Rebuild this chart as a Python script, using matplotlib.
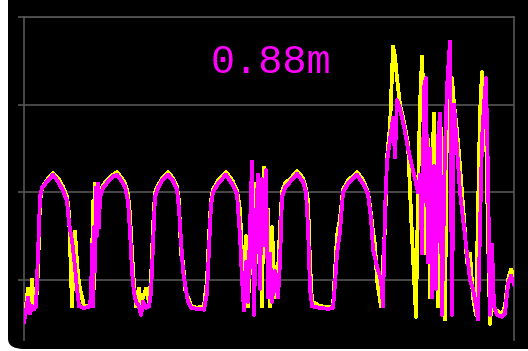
import matplotlib
matplotlib.use("Agg")
import matplotlib.pyplot as plt
from matplotlib.patches import FancyBboxPatch

# time index (samples) and two traces
t = [0, 2, 4, 6, 8, 10, 12, 14, 16, 18, 23, 29, 34, 39, 43, 45, 48, 51, 53, 55,
     60, 65, 67, 68, 69, 70, 71, 72, 73, 74, 75, 76, 79, 84, 89, 93, 97, 101, 104, 106,
     108, 110, 112, 115, 117, 119, 122, 125, 127, 129, 131, 134, 139, 144, 149, 153, 155, 157, 159, 161,
     164, 167, 173, 180, 183, 185, 187, 189, 194, 202, 208, 213, 216, 218, 220, 222, 224, 226, 228, 230,
     232, 234, 236, 238, 240, 242, 244, 246, 248, 251, 254, 256, 258, 261, 267, 273, 279, 282, 284, 286,
     288, 296, 304, 309, 311, 313, 316, 319, 324, 333, 339, 344, 347, 349, 351, 353, 357, 359, 361, 363,
     366, 369, 371, 373, 376, 380, 384, 388, 392, 394, 396, 398, 400, 402, 404, 406, 408, 410, 412, 414,
     416, 418, 421, 423, 426, 428, 430, 433, 436, 440, 443, 446, 449, 452, 454, 456, 458, 460, 462, 464,
     466, 468, 470, 473, 478, 481, 484, 487, 490]

magenta_vals = [-0.48, -0.36, -0.20, -0.38, -0.30, -0.34, -0.30, 0.30, 0.95, 1.05, 1.12, 1.20, 1.12, 1.02, 0.90, 0.65, 0.45, 0.15, -0.10, -0.30,
                -0.32, -0.31, -0.20, 0.40, -0.30, 0.60, 0.10, 1.05, 0.50, 1.10, 0.60, 0.95, 1.05, 1.12, 1.18, 1.20, 1.14, 1.06, 0.90, 0.55,
                0.10, -0.15, -0.25, -0.30, -0.40, -0.25, -0.32, -0.30, -0.15, 0.40, 0.95, 1.05, 1.15, 1.20, 1.13, 1.03, 0.80, 0.45, 0.10, -0.05,
                -0.25, -0.32, -0.33, -0.34, -0.15, 0.35, 0.85, 1.00, 1.10, 1.20, 1.10, 0.98, 0.50, 0.00, -0.35, 0.20, -0.25, 0.60, 1.35, -0.40,
                0.70, 1.20, -0.10, 1.15, 0.40, 1.25, -0.20, 0.30, -0.25, 0.10, -0.20, 0.20, 0.95, 1.05, 1.13, 1.21, 1.12, 1.00, 0.60, -0.10,
                -0.30, -0.32, -0.33, -0.32, -0.05, 0.30, 0.55, 1.00, 1.10, 1.20, 1.10, 0.98, 0.70, 0.35, 0.25, 0.15, 0.00, -0.30, 0.80, 1.35,
                1.60, 1.85, 1.40, 2.05, 1.95, 1.75, 1.50, 1.30, 1.10, 1.00, 1.20, 0.30, 2.20, 2.30, 0.20, 1.50, -0.20, 1.30, -0.10, 1.60,
                1.90, -0.40, 1.50, 2.20, 2.72, -0.40, 2.00, 1.50, 1.00, 0.60, 0.30, 0.00, -0.10, -0.30, -0.45, 0.60, 1.60, 2.00, 2.30, 1.20,
                -0.40, 0.40, -0.30, -0.40, -0.42, -0.38, -0.05, 0.05, -0.05]

yellow_vals = [-0.40, -0.30, -0.10, -0.35, 0.00, -0.30, -0.28, 0.10, 0.90, 1.05, 1.14, 1.22, 1.16, 1.06, 0.95, 0.75, -0.30, 0.55, 0.20, -0.05,
               -0.30, -0.30, -0.25, 0.20, 0.90, -0.10, 1.10, 0.60, 1.08, 0.80, 1.00, 1.00, 1.08, 1.15, 1.20, 1.23, 1.17, 1.10, 0.98, 0.75,
               0.30, -0.05, -0.30, -0.10, -0.28, -0.20, -0.10, -0.25, 0.00, 0.60, 1.00, 1.08, 1.17, 1.23, 1.16, 1.06, 0.90, 0.30, 0.20, -0.10,
               -0.20, -0.30, -0.32, -0.30, 0.00, 0.50, 0.90, 1.03, 1.13, 1.23, 1.14, 1.02, 0.80, 0.30, -0.20, 0.50, -0.30, 0.20, 0.90, -0.30,
               1.10, 0.20, 0.90, -0.30, 1.28, 0.50, 0.80, -0.30, 0.60, -0.20, 0.10, 0.60, 1.00, 1.10, 1.16, 1.24, 1.16, 1.04, 0.90, 0.20,
               -0.25, -0.30, -0.31, -0.30, 0.10, 0.50, 0.70, 1.03, 1.13, 1.23, 1.14, 1.00, 0.75, 0.55, 0.40, 0.00, -0.30, 0.20, 0.60, 1.40,
               1.75, 2.66, 2.55, 2.30, 2.00, 1.80, 1.55, 0.50, -0.42, 1.00, 2.00, 2.55, 1.90, 0.30, 1.60, -0.20, 1.20, 1.90, 0.30, -0.30,
               1.80, 1.60, -0.45, 1.90, 2.10, 2.30, 2.00, 1.70, 1.30, 0.70, 0.20, 0.30, -0.20, -0.40, 0.80, 1.90, 2.37, 2.10, 1.70, 0.50,
               -0.50, -0.20, -0.35, -0.35, -0.40, -0.30, 0.00, 0.12, 0.05]

label = "0.88m"
grid_levels = [0, 1, 2, 3]

W, H, DPI = 528, 351, 100
fig = plt.figure(figsize=(W / DPI, H / DPI), dpi=DPI, facecolor="white")

# black rounded panel
panel = FancyBboxPatch((8 / W, 2 / H), 1.2, 1.2, boxstyle="round,pad=0,rounding_size=0.03",
                       transform=fig.transFigure, facecolor="black", edgecolor="none", zorder=-5)
fig.patches.append(panel)

ax = fig.add_axes([24 / W, 1 - 340 / H, (514 - 24) / W, (340 - 17) / H])
ax.set_zorder(2)
ax.set_facecolor("none")
ax.set_xlim(0, 490)
ax.set_ylim(-0.686, 3.0)

gray = "#555555"
for s in ["left", "right", "top"]:
    ax.spines[s].set_color(gray)
    ax.spines[s].set_linewidth(1.2)
ax.spines["bottom"].set_visible(False)
ax.set_yticks(grid_levels)
ax.set_yticklabels([])
ax.set_xticks([])
ax.tick_params(axis="y", colors=gray, length=4, width=1.2, direction="out")
ax.grid(axis="y", color=gray, linewidth=1.2)
ax.set_axisbelow(True)

ax.plot(t, yellow_vals, color="#ffff00", linewidth=2.0, antialiased=False, zorder=3)
ax.plot(t, magenta_vals, color="#ff00ff", linewidth=2.0, antialiased=False, zorder=4)

fig.text(271 / W, 1 - 62 / H, label, color="#ff00ff", fontsize=29,
         family="Liberation Mono", ha="center", va="center", zorder=5)

fig.savefig("out.png", dpi=DPI, facecolor="white")
